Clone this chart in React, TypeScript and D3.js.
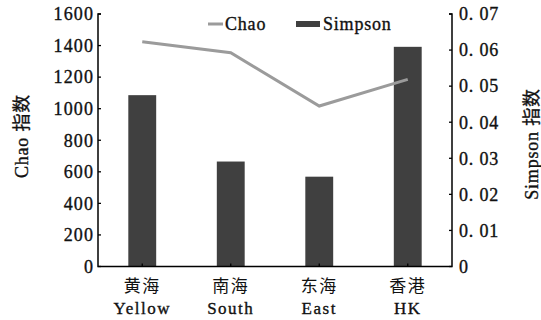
import React from "react";
import * as d3 from "d3";

const categoriesCn = ["黄海", "南海", "东海", "香港"];
const categoriesEn = ["Yellow", "South", "East", "HK"];
const chaoValues = [1424, 1355, 1017, 1186];
const simpsonValues = [0.0475, 0.0291, 0.0249, 0.0609];
const leftTicks = [0, 200, 400, 600, 800, 1000, 1200, 1400, 1600];
const rightTicks = [0, 0.01, 0.02, 0.03, 0.04, 0.05, 0.06, 0.07];

const W = 541;
const H = 320;
const FONT = "'Liberation Serif', 'Noto Sans CJK SC', serif";
const CJK = "'Noto Sans CJK SC', sans-serif";
const INK = "#111";

export default function App() {
  const left = 98;
  const right = 452;
  const top = 14;
  const bottom = 266.5;

  const x = d3.scaleBand<string>().domain(categoriesEn).range([left, right]).paddingInner(0.685).paddingOuter(0.3425);
  const yL = d3.scaleLinear().domain([0, 1600]).range([bottom, top]);
  const yR = d3.scaleLinear().domain([0, 0.07]).range([bottom, top]);

  const line = d3
    .line<number>()
    .x((_, i) => (x(categoriesEn[i]) as number) + x.bandwidth() / 2)
    .y((d) => yL(d));

  const fmtR = (v: number) => (v === 0 ? "0" : v.toFixed(2).replace(".", ". "));
  const textStyle = { stroke: INK, strokeWidth: 0.35 } as React.CSSProperties;

  return (
    <svg width={W} height={H} style={{ position: "absolute", left: 0, top: 0, background: "#fff" }}>
      {/* bars */}
      {simpsonValues.map((v, i) => (
        <rect
          key={i}
          x={x(categoriesEn[i])}
          y={yR(v)}
          width={x.bandwidth()}
          height={bottom - yR(v)}
          fill="#404040"
        />
      ))}
      {/* chao line */}
      <path d={line(chaoValues) || ""} fill="none" stroke="#9b9b9b" strokeWidth={3} />

      {/* axes */}
      <path d={`M${left + 3},${top} H${left} V${bottom} H${right} V${top} H${right - 3}`} fill="none" stroke="#000" strokeWidth={1.5} />
      {leftTicks.map((t) => (
        <g key={"l" + t}>
          <line x1={left} x2={left + 3} y1={yL(t)} y2={yL(t)} stroke="#000" strokeWidth={1.3} />
          <text x={94} y={yL(t)} dy="0.35em" textAnchor="end" fontFamily={FONT} fontSize={18} letterSpacing={1.1} fill={INK} style={textStyle}>
            {t}
          </text>
        </g>
      ))}
      {rightTicks.map((t) => (
        <g key={"r" + t}>
          <line x1={right - 3} x2={right} y1={yR(t)} y2={yR(t)} stroke="#000" strokeWidth={1.3} />
          <text x={459} y={yR(t)} dy="0.35em" textAnchor="start" fontFamily={FONT} fontSize={18} letterSpacing={0.8} fill={INK} style={{ ...textStyle, whiteSpace: "pre" }}>
            {fmtR(t)}
          </text>
        </g>
      ))}
      {categoriesEn.map((c, i) => {
        const cx = (x(c) as number) + x.bandwidth() / 2;
        return (
          <g key={c}>
            <line x1={cx} x2={cx} y1={bottom} y2={bottom - 3} stroke="#000" strokeWidth={1.3} />
            <text x={cx} y={292} textAnchor="middle" fontFamily={CJK} fontSize={17} letterSpacing={1.5} fill={INK}>
              {categoriesCn[i]}
            </text>
            <text x={cx} y={314} textAnchor="middle" fontFamily={FONT} fontSize={17} letterSpacing={1.5} fill={INK} style={textStyle}>
              {c}
            </text>
          </g>
        );
      })}

      {/* axis titles */}
      <text
        transform={`translate(28,136) rotate(-90)`}
        textAnchor="middle"
        fontFamily={FONT}
        fontSize={18}
        letterSpacing={0.8}
        fill={INK}
        style={textStyle}
      >
        Chao 指数
      </text>
      <text
        transform={`translate(538,144) rotate(-90)`}
        textAnchor="middle"
        fontFamily={FONT}
        fontSize={18}
        letterSpacing={0.8}
        fill={INK}
        style={textStyle}
      >
        Simpson 指数
      </text>

      {/* legend */}
      <line x1={208} x2={223} y1={24} y2={24} stroke="#9b9b9b" strokeWidth={3} />
      <text x={225} y={30} fontFamily={FONT} fontSize={18} letterSpacing={0.8} fill={INK} style={textStyle}>
        Chao
      </text>
      <rect x={296} y={21} width={24} height={6} fill="#404040" />
      <text x={323} y={30} fontFamily={FONT} fontSize={18} letterSpacing={0.8} fill={INK} style={textStyle}>
        Simpson
      </text>
    </svg>
  );
}
